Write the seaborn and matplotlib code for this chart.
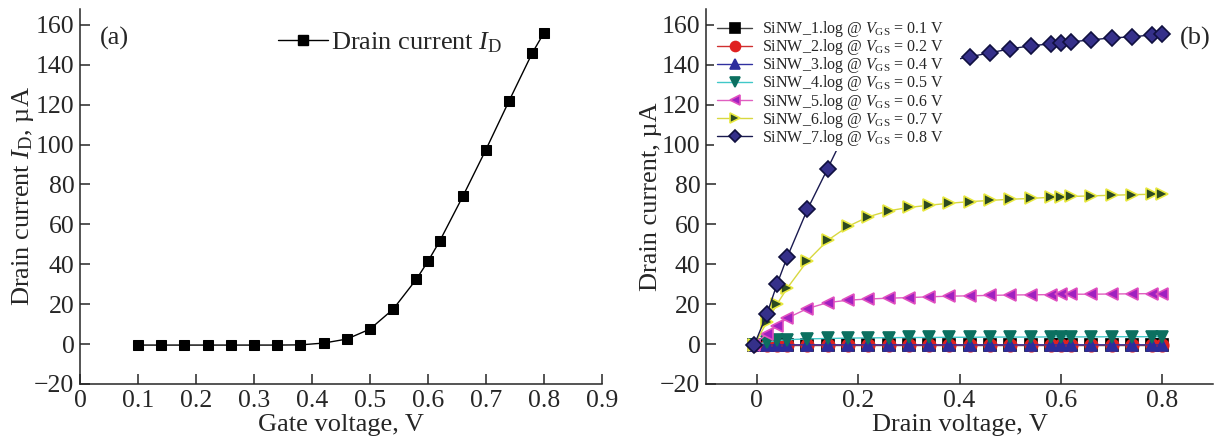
import numpy as np
import pandas as pd
import seaborn as sns
import matplotlib.pyplot as plt
from matplotlib.lines import Line2D

# --- data ---
# (a) transfer curve
vg = [0.10, 0.14, 0.18, 0.22, 0.26, 0.30, 0.34, 0.38, 0.42, 0.46,
      0.50, 0.54, 0.58, 0.60, 0.62, 0.66, 0.70, 0.74, 0.78, 0.80]
id_gate = [-0.5, -0.5, -0.5, -0.5, -0.5, -0.5, -0.5, -0.4, 0.5, 2.5,
           7.5, 17.5, 32.5, 41.5, 51.5, 74.0, 97.5, 122.0, 146.0, 156.0]

# (b) output curves
vd = [-0.005, 0.02, 0.04, 0.06, 0.10, 0.14, 0.18, 0.22, 0.26, 0.30, 0.34, 0.38,
      0.42, 0.46, 0.50, 0.54, 0.58, 0.60, 0.62, 0.66, 0.70, 0.74, 0.78, 0.80]
id_01 = [-0.6, -0.6, -0.6, -0.6, -0.6, -0.6, -0.6, -0.6, -0.6, -0.6, -0.6, -0.6,
         -0.6, -0.6, -0.6, -0.6, -0.6, -0.6, -0.6, -0.6, -0.6, -0.6, -0.6, -0.6]
id_02 = [-0.6, -0.5, -0.5, -0.5, -0.5, -0.5, -0.5, -0.5, -0.5, -0.5, -0.5, -0.5,
         -0.5, -0.5, -0.5, -0.5, -0.5, -0.5, -0.5, -0.5, -0.5, -0.5, -0.5, -0.5]
id_04 = [-0.6, -0.4, -0.4, -0.4, -0.4, -0.4, -0.4, -0.4, -0.4, -0.4, -0.4, -0.4,
         -0.4, -0.4, -0.4, -0.4, -0.4, -0.4, -0.4, -0.4, -0.4, -0.4, -0.4, -0.4]
id_05 = [-0.5, 1.0, 1.8, 2.2, 2.6, 2.8, 3.0, 3.1, 3.2, 3.3, 3.3, 3.4,
         3.4, 3.5, 3.5, 3.5, 3.6, 3.6, 3.6, 3.6, 3.7, 3.7, 3.7, 3.7]
id_06 = [-0.5, 5.3, 9.0, 13.0, 17.8, 20.8, 22.0, 22.6, 23.0, 23.3, 23.7, 24.0,
         24.2, 24.4, 24.6, 24.7, 24.8, 24.9, 25.0, 25.0, 25.1, 25.2, 25.3, 25.3]
id_07 = [-0.5, 11.0, 20.0, 28.0, 41.7, 52.0, 59.0, 63.8, 66.8, 68.5, 69.6, 70.6,
         71.4, 72.0, 72.6, 73.0, 73.6, 73.8, 74.0, 74.3, 74.6, 74.9, 75.1, 75.2]
id_08 = [-0.5, 15.0, 30.0, 43.5, 67.5, 88.0, 109.0, 122.0, 130.0, 135.5, 139.5, 142.0,
         144.0, 146.0, 148.0, 149.5, 150.5, 151.0, 151.5, 152.5, 153.5, 154.0, 155.0, 155.2]

vgs_labels = ['0.1', '0.2', '0.4', '0.5', '0.6', '0.7', '0.8']
out_curves = [id_01, id_02, id_04, id_05, id_06, id_07, id_08]

# marker, face, edge, line colour per curve
styles = [('s', '#000000', '#000000', '#444444'),
          ('o', '#e02020', '#e02020', '#d03030'),
          ('^', '#2c2c9c', '#2c2c9c', '#3030a0'),
          ('v', '#0c7060', '#0c7060', '#40c8c8'),
          ('<', '#a020c0', '#e050c0', '#e060c0'),
          ('>', '#2c4a20', '#e8e840', '#d8d840'),
          ('D', '#35308a', '#101040', '#1a1a50')]

sns.set_theme(style='ticks')
plt.rcParams['font.family'] = ['Liberation Serif', 'DejaVu Serif']
plt.rcParams['mathtext.fontset'] = 'custom'
plt.rcParams['mathtext.rm'] = 'Liberation Serif'
plt.rcParams['mathtext.it'] = 'Liberation Serif:italic'
plt.rcParams['axes.unicode_minus'] = True

fig = plt.figure(figsize=(12.2, 4.47), dpi=100)
ax1 = fig.add_axes([0.0656, 0.141, 0.4278, 0.839])
ax2 = fig.add_axes([0.5787, 0.141, 0.4156, 0.839])

fs_tick = 18.5
fs_lab = 19

# (a)
sns.lineplot(x=vg, y=id_gate, ax=ax1, color='black', lw=1.0, marker='s',
             markersize=7.5, markeredgecolor='black', legend=False)
ax1.set_xlim(0, 0.9)
ax1.set_xticks(np.arange(0, 0.91, 0.1))
ax1.set_xticklabels(['0', '0.1', '0.2', '0.3', '0.4', '0.5', '0.6', '0.7', '0.8', '0.9'])
ax1.set_xlabel('Gate voltage, V', fontsize=fs_lab, labelpad=2)
ax1.set_ylabel(r'Drain current $I_\mathrm{D}$, µA', fontsize=fs_lab, labelpad=-1)
ax1.text(0.035, 153, '(a)', fontsize=fs_lab, va='center')
h = Line2D([], [], color='black', lw=1.0, marker='s', markersize=7.5)
fig.legend([h], [r'Drain current $I_\mathrm{D}$'], loc='center left',
           bbox_to_anchor=(278 / 1220, 1 - 43 / 447), frameon=False,
           fontsize=fs_lab, borderpad=0, borderaxespad=0,
           handlelength=1.9, handletextpad=0.1)

# (b)
for i, (lab, yv, (m, fc, ec, lc)) in enumerate(zip(vgs_labels, out_curves, styles)):
    sns.lineplot(x=vd, y=yv, ax=ax2, color=lc, lw=1.0, marker=m,
                 markersize=9 if m != 'D' else 8, markerfacecolor=fc,
                 markeredgecolor=ec, markeredgewidth=1.2,
                 label=r'SiNW_%d.log @ $V_\mathrm{GS}$ = %s V' % (i + 1, lab))
ax2.set_xlim(-0.1, 0.9)
ax2.set_xticks([0, 0.2, 0.4, 0.6, 0.8])
ax2.set_xticklabels(['0', '0.2', '0.4', '0.6', '0.8'])
ax2.set_xlabel('Drain voltage, V', fontsize=fs_lab, labelpad=2)
ax2.set_ylabel('Drain current, µA', fontsize=fs_lab, labelpad=-1)
ax2.text(0.835, 153, '(b)', fontsize=fs_lab, va='center')
# white legend box, stretched to the right like in the original
lx0, lx1, ly1 = 714 / 1220, 960 / 1220, 1 - 16 / 447
leg = ax2.legend(loc='upper left', bbox_to_anchor=(lx0, ly1 - 0.3, lx1 - lx0, 0.3),
                 bbox_transform=fig.transFigure, mode='expand', fontsize=11.5,
                 frameon=True, facecolor='white', edgecolor='none', framealpha=1,
                 fancybox=False, borderpad=0.2, labelspacing=-0.12, handlelength=2.2,
                 handletextpad=0.6, markerscale=0.8, borderaxespad=0)

for ax in (ax1, ax2):
    ax.set_ylim(-20, 168)
    ax.set_yticks(np.arange(-20, 161, 20))
    ax.tick_params(direction='in', length=7, width=1.1, labelsize=fs_tick, pad=4)
    for s in ('top', 'right'):
        ax.spines[s].set_visible(False)
    for s in ('left', 'bottom'):
        ax.spines[s].set_linewidth(1.1)

fig.savefig('out.png', dpi=100)
